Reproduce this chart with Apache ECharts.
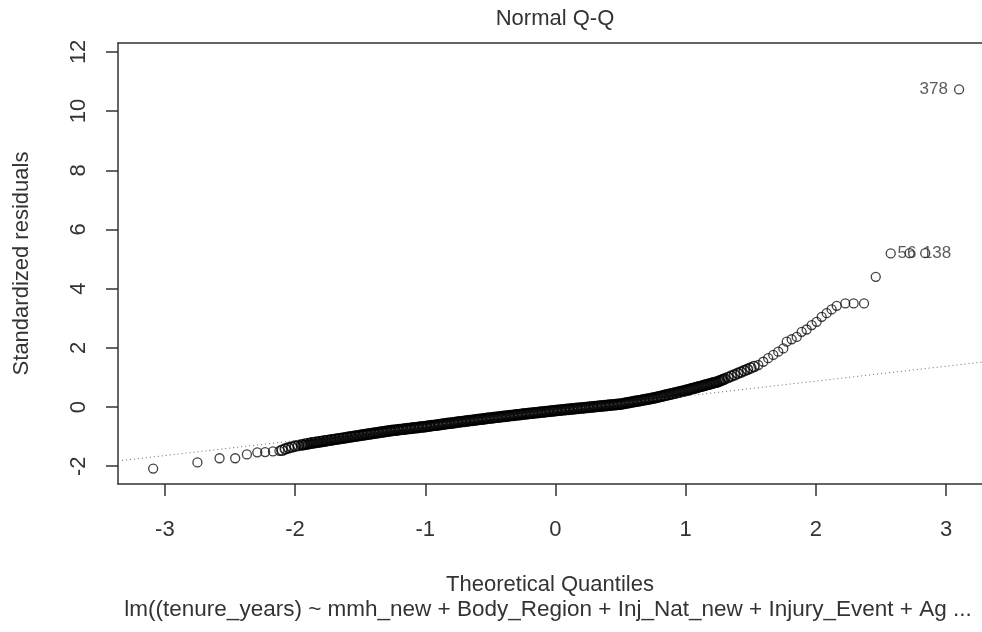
<!DOCTYPE html>
<html>
<head>
<meta charset="utf-8">
<title>Normal Q-Q</title>
<script src="https://cdn.jsdelivr.net/npm/echarts@6/dist/echarts.min.js"></script>
<style>
  html, body { margin: 0; padding: 0; background: #fff; }
  #myChart { width: 982px; height: 632px; }
</style>
</head>
<body>
<div id="myChart"></div>
<script>
// tick labels
var xTicks = [-3, -2, -1, 0, 1, 2, 3];
var yTicks = [-2, 0, 2, 4, 6, 8, 10, 12];

// lower tail points [theoretical quantile, standardized residual]
var lowTail = [
  [-3.09, -2.08], [-2.75, -1.87], [-2.58, -1.73], [-2.46, -1.73], [-2.37, -1.60],
  [-2.29, -1.53], [-2.23, -1.52], [-2.17, -1.50], [-2.12, -1.48]
];

// dense middle band
var bodyPts = [
  [-2.100, -1.46], [-2.075, -1.415], [-2.050, -1.38], [-2.025, -1.35], [-2.000, -1.32],
  [-1.975, -1.30], [-1.950, -1.28],
  [-1.9375, -1.27], [-1.925, -1.26], [-1.9125, -1.25], [-1.900, -1.24], [-1.8875, -1.23],
  [-1.875, -1.22], [-1.8625, -1.21], [-1.850, -1.20], [-1.8375, -1.193], [-1.825, -1.185],
  [-1.8125, -1.178], [-1.800, -1.17], [-1.7875, -1.16], [-1.775, -1.15], [-1.7625, -1.14],
  [-1.750, -1.13], [-1.7375, -1.122], [-1.725, -1.113], [-1.7125, -1.105], [-1.700, -1.096],
  [-1.6875, -1.088], [-1.675, -1.079], [-1.6625, -1.071], [-1.650, -1.062], [-1.6375, -1.054],
  [-1.625, -1.045], [-1.6125, -1.037], [-1.600, -1.028], [-1.5875, -1.02], [-1.575, -1.011],
  [-1.5625, -1.003], [-1.550, -0.994], [-1.5375, -0.986], [-1.525, -0.977], [-1.5125, -0.969],
  [-1.500, -0.96], [-1.4875, -0.952], [-1.475, -0.943], [-1.4625, -0.935], [-1.450, -0.926],
  [-1.4375, -0.918], [-1.425, -0.909], [-1.4125, -0.901], [-1.400, -0.892], [-1.3875, -0.884],
  [-1.375, -0.875], [-1.3625, -0.867], [-1.350, -0.858], [-1.3375, -0.85], [-1.325, -0.841],
  [-1.3125, -0.833], [-1.300, -0.824], [-1.2875, -0.816], [-1.275, -0.807], [-1.2625, -0.799],
  [-1.250, -0.79], [-1.2375, -0.784], [-1.225, -0.777], [-1.2125, -0.771], [-1.200, -0.764],
  [-1.1875, -0.758], [-1.175, -0.751], [-1.1625, -0.745], [-1.150, -0.738], [-1.1375, -0.732],
  [-1.125, -0.725], [-1.1125, -0.719], [-1.100, -0.712], [-1.0875, -0.706], [-1.075, -0.699],
  [-1.0625, -0.693], [-1.050, -0.686], [-1.0375, -0.68], [-1.025, -0.673], [-1.0125, -0.667],
  [-1.000, -0.66], [-0.9875, -0.653], [-0.975, -0.645], [-0.9625, -0.638], [-0.950, -0.63],
  [-0.9375, -0.623], [-0.925, -0.615], [-0.9125, -0.608], [-0.900, -0.60], [-0.8875, -0.593],
  [-0.875, -0.585], [-0.8625, -0.578], [-0.850, -0.57], [-0.8375, -0.563], [-0.825, -0.555],
  [-0.8125, -0.548], [-0.800, -0.54], [-0.7875, -0.533], [-0.775, -0.525], [-0.7625, -0.518],
  [-0.750, -0.51], [-0.7375, -0.503], [-0.725, -0.496], [-0.7125, -0.489], [-0.700, -0.482],
  [-0.6875, -0.475], [-0.675, -0.468], [-0.6625, -0.461], [-0.650, -0.454], [-0.6375, -0.447],
  [-0.625, -0.44], [-0.6125, -0.433], [-0.600, -0.426], [-0.5875, -0.419], [-0.575, -0.412],
  [-0.5625, -0.405], [-0.550, -0.398], [-0.5375, -0.391], [-0.525, -0.384], [-0.5125, -0.377],
  [-0.500, -0.37], [-0.4875, -0.364], [-0.475, -0.357], [-0.4625, -0.351], [-0.450, -0.344],
  [-0.4375, -0.338], [-0.425, -0.331], [-0.4125, -0.325], [-0.400, -0.318], [-0.3875, -0.312],
  [-0.375, -0.305], [-0.3625, -0.299], [-0.350, -0.292], [-0.3375, -0.286], [-0.325, -0.279],
  [-0.3125, -0.273], [-0.300, -0.266], [-0.2875, -0.26], [-0.275, -0.253], [-0.2625, -0.247],
  [-0.250, -0.24], [-0.2375, -0.234], [-0.225, -0.228], [-0.2125, -0.222], [-0.200, -0.216],
  [-0.1875, -0.21], [-0.175, -0.204], [-0.1625, -0.198], [-0.150, -0.192], [-0.1375, -0.186],
  [-0.125, -0.18], [-0.1125, -0.174], [-0.100, -0.168], [-0.0875, -0.162], [-0.075, -0.156],
  [-0.0625, -0.15], [-0.050, -0.144], [-0.0375, -0.138], [-0.025, -0.132], [-0.0125, -0.126],
  [0.000, -0.12], [0.0125, -0.114], [0.025, -0.109], [0.0375, -0.103], [0.050, -0.098],
  [0.0625, -0.092], [0.075, -0.087], [0.0875, -0.081], [0.100, -0.076], [0.1125, -0.07],
  [0.125, -0.065], [0.1375, -0.059], [0.150, -0.054], [0.1625, -0.048], [0.175, -0.043],
  [0.1875, -0.037], [0.200, -0.032], [0.2125, -0.026], [0.225, -0.021], [0.2375, -0.015],
  [0.250, -0.01], [0.2625, -0.004], [0.275, 0.001], [0.2875, 0.007], [0.300, 0.012],
  [0.3125, 0.018], [0.325, 0.023], [0.3375, 0.029], [0.350, 0.034], [0.3625, 0.04],
  [0.375, 0.045], [0.3875, 0.051], [0.400, 0.056], [0.4125, 0.062], [0.425, 0.067],
  [0.4375, 0.073], [0.450, 0.078], [0.4625, 0.084], [0.475, 0.089], [0.4875, 0.095],
  [0.500, 0.10], [0.5125, 0.11], [0.525, 0.12], [0.5375, 0.13], [0.550, 0.14],
  [0.5625, 0.15], [0.575, 0.16], [0.5875, 0.17], [0.600, 0.18], [0.6125, 0.19],
  [0.625, 0.20], [0.6375, 0.21], [0.650, 0.22], [0.6625, 0.23], [0.675, 0.24],
  [0.6875, 0.25], [0.700, 0.26], [0.7125, 0.27], [0.725, 0.28], [0.7375, 0.29],
  [0.750, 0.30], [0.7625, 0.313], [0.775, 0.326], [0.7875, 0.339], [0.800, 0.352],
  [0.8125, 0.365], [0.825, 0.378], [0.8375, 0.391], [0.850, 0.404], [0.8625, 0.417],
  [0.875, 0.43], [0.8875, 0.443], [0.900, 0.456], [0.9125, 0.469], [0.925, 0.482],
  [0.9375, 0.495], [0.950, 0.508], [0.9625, 0.521], [0.975, 0.534], [0.9875, 0.547],
  [1.000, 0.56], [1.0125, 0.575], [1.025, 0.59], [1.0375, 0.605], [1.050, 0.62],
  [1.0625, 0.635], [1.075, 0.65], [1.0875, 0.665], [1.100, 0.68], [1.1125, 0.695],
  [1.125, 0.71], [1.1375, 0.725], [1.150, 0.74], [1.1625, 0.755], [1.175, 0.77],
  [1.1875, 0.785], [1.200, 0.80], [1.2125, 0.815], [1.225, 0.83], [1.2375, 0.845],
  [1.250, 0.86], [1.2625, 0.883], [1.275, 0.906], [1.2875, 0.929], [1.300, 0.952],
  [1.325, 0.998], [1.350, 1.044], [1.375, 1.09], [1.400, 1.136], [1.425, 1.182],
  [1.450, 1.228], [1.475, 1.274], [1.500, 1.32], [1.525, 1.37]
];

// upper tail points
var upTail = [
  [1.558, 1.42], [1.596, 1.53], [1.634, 1.65], [1.673, 1.76], [1.711, 1.87],
  [1.750, 1.98], [1.776, 2.21], [1.814, 2.29], [1.853, 2.37], [1.891, 2.54],
  [1.929, 2.62], [1.968, 2.77], [2.006, 2.88], [2.045, 3.05], [2.083, 3.17],
  [2.121, 3.30], [2.160, 3.42], [2.226, 3.50], [2.290, 3.50], [2.370, 3.50],
  [2.460, 4.40], [2.575, 5.19], [2.720, 5.20], [2.840, 5.20], [3.100, 10.73]
];

// qqline end points
var refLine = [[-3.36, -1.82], [3.36, 1.56]];

// point ids [x, y, text]
var idLabels = [[2.905, 10.73, '378'], [2.700, 5.19, '56'], [2.930, 5.19, '138']];

var fontFam = "'Liberation Sans', Arial, sans-serif";
var txtColor = '#333';
var boxLine = { color: '#333', width: 1.5 };
var tailPts = lowTail.concat(upTail);

var option = {
  backgroundColor: '#fff',
  animation: false,
  textStyle: { fontFamily: fontFam },
  grid: {
    left: 118,
    top: 43,
    right: 0,
    bottom: 148,
    containLabel: false
  },
  xAxis: [
    {
      type: 'value',
      position: 'bottom',
      min: -3.36,
      max: 3.276,
      name: 'Theoretical Quantiles',
      nameLocation: 'middle',
      nameGap: 90,
      nameTextStyle: { fontSize: 22, color: txtColor, fontFamily: fontFam },
      axisLine: { show: true, onZero: false, lineStyle: boxLine },
      splitLine: { show: false },
      axisTick: { show: true, length: 12, customValues: xTicks, lineStyle: boxLine },
      axisLabel: { customValues: xTicks, fontSize: 22, color: txtColor, margin: 35, fontFamily: fontFam }
    },
    {
      // top edge of the box
      type: 'value',
      position: 'top',
      min: -3.36,
      max: 3.276,
      axisLine: { show: true, onZero: false, lineStyle: boxLine },
      axisTick: { show: false },
      axisLabel: { show: false },
      splitLine: { show: false }
    }
  ],
  yAxis: {
    type: 'value',
    min: -2.6,
    max: 12.3,
    name: 'Standardized residuals',
    nameLocation: 'middle',
    nameGap: 85,
    nameTextStyle: { fontSize: 22, color: txtColor, fontFamily: fontFam },
    axisLine: { show: true, onZero: false, lineStyle: boxLine },
    splitLine: { show: false },
    axisTick: { show: true, length: 12, customValues: yTicks, lineStyle: boxLine },
    axisLabel: { customValues: yTicks, rotate: 90, fontSize: 22, color: txtColor, margin: 28, fontFamily: fontFam }
  },
  graphic: [
    {
      type: 'text', x: 555, y: 19,
      style: { text: 'Normal Q-Q', fontSize: 22, fill: txtColor, fontFamily: fontFam,
               textAlign: 'center', textVerticalAlign: 'middle' }
    },
    {
      type: 'text', x: 548, y: 610,
      style: { text: 'lm((tenure_years) ~ mmh_new + Body_Region + Inj_Nat_new + Injury_Event + Ag ...',
               fontSize: 22.5, fill: txtColor, fontFamily: fontFam,
               textAlign: 'center', textVerticalAlign: 'middle' }
    }
  ],
  series: [
    {
      type: 'line',
      data: refLine,
      symbol: 'none',
      silent: true,
      lineStyle: { color: '#666', width: 1, type: [1, 3] }
    },
    {
      // overlapping circles in the middle read as a solid band
      type: 'scatter',
      data: bodyPts,
      symbol: 'circle',
      symbolSize: 10,
      silent: true,
      itemStyle: { color: 'rgba(0,0,0,0)', borderColor: '#000', borderWidth: 1.7 }
    },
    {
      type: 'scatter',
      data: tailPts,
      symbol: 'circle',
      symbolSize: 9,
      silent: true,
      itemStyle: { color: 'rgba(0,0,0,0)', borderColor: '#111', borderWidth: 1.3 }
    },
    {
      type: 'scatter',
      data: idLabels,
      symbolSize: 0,
      silent: true,
      label: {
        show: true,
        position: 'inside',
        formatter: function (p) { return p.data[2]; },
        fontSize: 17,
        color: txtColor,
        fontFamily: fontFam
      }
    }
  ]
};

var myChart = echarts.init(document.getElementById('myChart'));
myChart.setOption(option);
</script>
</body>
</html>
